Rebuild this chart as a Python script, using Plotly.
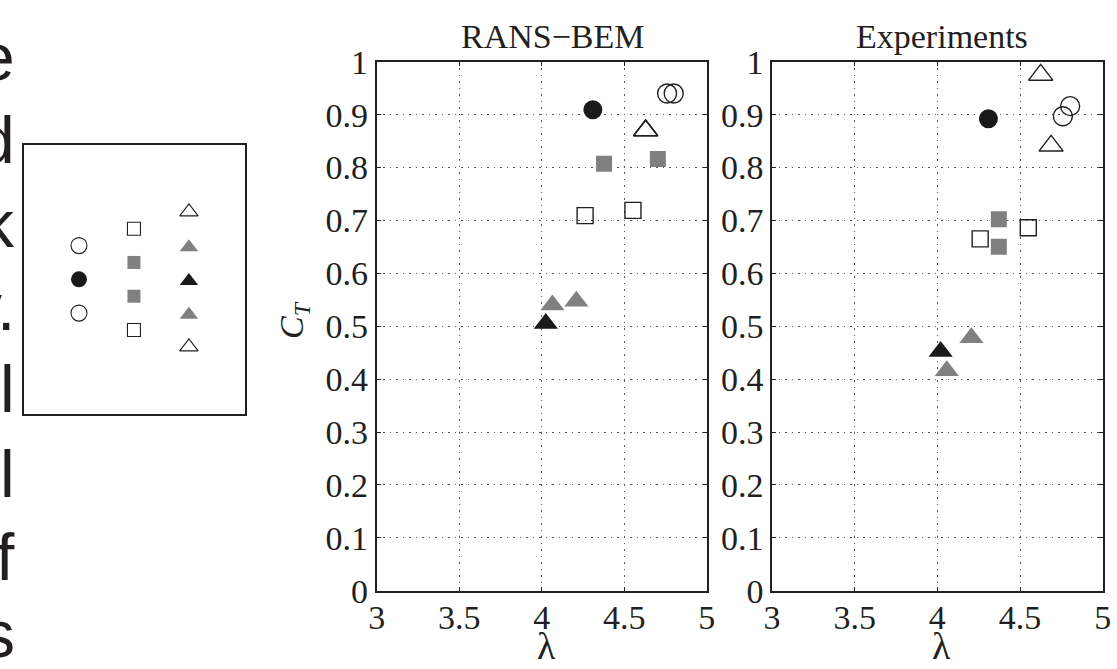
import plotly.graph_objects as go

W, H = 1117, 669

# ---------------- data ----------------
panel_titles = ["RANS\u2212BEM", "Experiments"]
x_ticks = [3, 3.5, 4, 4.5, 5]
x_tick_labels = ["3", "3.5", "4", "4.5", "5"]
y_ticks = [0, 0.1, 0.2, 0.3, 0.4, 0.5, 0.6, 0.7, 0.8, 0.9, 1]
y_tick_labels = ["0", "0.1", "0.2", "0.3", "0.4", "0.5", "0.6", "0.7", "0.8", "0.9", "1"]

# RANS-BEM panel (lambda, C_T)
rans_black_triangle_lam = [4.025]
rans_black_triangle_ct = [0.505]
rans_gray_triangle_lam = [4.065, 4.21]
rans_gray_triangle_ct = [0.54, 0.547]
rans_open_triangle_lam = [4.63, 4.63]
rans_open_triangle_ct = [0.87, 0.87]
rans_open_square_lam = [4.263, 4.553]
rans_open_square_ct = [0.709, 0.719]
rans_gray_square_lam = [4.378, 4.704]
rans_gray_square_ct = [0.807, 0.816]
rans_black_circle_lam = [4.31]
rans_black_circle_ct = [0.909]
rans_open_circle_lam = [4.76, 4.80]
rans_open_circle_ct = [0.94, 0.94]

# Experiments panel (lambda, C_T)
exp_black_triangle_lam = [4.02]
exp_black_triangle_ct = [0.452]
exp_gray_triangle_lam = [4.206, 4.057]
exp_gray_triangle_ct = [0.478, 0.416]
exp_open_triangle_lam = [4.625, 4.688]
exp_open_triangle_ct = [0.975, 0.841]
exp_open_square_lam = [4.259, 4.55]
exp_open_square_ct = [0.665, 0.686]
exp_gray_square_lam = [4.372, 4.372]
exp_gray_square_ct = [0.702, 0.65]
exp_black_circle_lam = [4.309]
exp_black_circle_ct = [0.892]
exp_open_circle_lam = [4.759, 4.803]
exp_open_circle_ct = [0.897, 0.916]

# symbol key box (column index, row position, kind)
key_circle_rows = [1.05, 2.05, 3.05]
key_circle_kinds = ["open", "black", "open"]
key_square_rows = [0.55, 1.55, 2.55, 3.55]
key_square_kinds = ["open", "gray", "gray", "open"]
key_triangle_rows = [0.05, 1.1, 2.1, 3.1, 4.05]
key_triangle_kinds = ["open", "gray", "black", "gray", "open"]

# cropped body text at the left edge
side_letters = ["e", "d", "k", "y.", "l", "l", "f", "s"]

# ---------------- styles ----------------
INK = "#231f20"
GRAY = "#808080"
BLACK = "#1a1a1a"
SERIF = "Liberation Serif, Times New Roman, serif"
SANS = "Liberation Sans, Arial, sans-serif"


def marker_style(kind, shape, size):
    sym = {"circle": "circle", "square": "square", "triangle": "triangle-up"}[shape]
    if kind == "open":
        return dict(symbol=sym + "-open", size=size, color=INK, line=dict(width=1.4, color=INK))
    col = GRAY if kind == "gray" else BLACK
    return dict(symbol=sym, size=size, color=col, line=dict(width=0))


fig = go.Figure()

SIZES = {"circle": 19, "square": 16, "triangle": 21}


def add_group(lam, ct, kind, shape, xa, ya):
    fig.add_trace(go.Scatter(x=lam, y=ct, mode="markers", xaxis=xa, yaxis=ya,
                             marker=marker_style(kind, shape, SIZES[shape]),
                             showlegend=False, hoverinfo="x+y"))


for xa, ya, groups in [
    ("x", "y", [
        (rans_black_triangle_lam, rans_black_triangle_ct, "black", "triangle"),
        (rans_gray_triangle_lam, rans_gray_triangle_ct, "gray", "triangle"),
        (rans_open_triangle_lam, rans_open_triangle_ct, "open", "triangle"),
        (rans_open_square_lam, rans_open_square_ct, "open", "square"),
        (rans_gray_square_lam, rans_gray_square_ct, "gray", "square"),
        (rans_black_circle_lam, rans_black_circle_ct, "black", "circle"),
        (rans_open_circle_lam, rans_open_circle_ct, "open", "circle"),
    ]),
    ("x2", "y2", [
        (exp_black_triangle_lam, exp_black_triangle_ct, "black", "triangle"),
        (exp_gray_triangle_lam, exp_gray_triangle_ct, "gray", "triangle"),
        (exp_open_triangle_lam, exp_open_triangle_ct, "open", "triangle"),
        (exp_open_square_lam, exp_open_square_ct, "open", "square"),
        (exp_gray_square_lam, exp_gray_square_ct, "gray", "square"),
        (exp_black_circle_lam, exp_black_circle_ct, "black", "circle"),
        (exp_open_circle_lam, exp_open_circle_ct, "open", "circle"),
    ]),
]:
    for lam, ct, kind, shape in groups:
        add_group(lam, ct, kind, shape, xa, ya)

# key box symbols
KEY_SIZES = {"circle": 16, "square": 13, "triangle": 16}
for col, rows, kinds, shape in [
    (1, key_circle_rows, key_circle_kinds, "circle"),
    (2, key_square_rows, key_square_kinds, "square"),
    (3, key_triangle_rows, key_triangle_kinds, "triangle"),
]:
    for r, k in zip(rows, kinds):
        ms = marker_style(k, shape, KEY_SIZES[shape])
        if k == "open":
            ms["line"]["width"] = 1.1
        fig.add_trace(go.Scatter(x=[col], y=[r], mode="markers", xaxis="x3", yaxis="y3",
                                 marker=ms, showlegend=False, hoverinfo="skip"))


def px_x(p):
    return p / W


def px_y(p):
    return 1 - p / H


ydom = [px_y(590.7), px_y(61.7)]
common_x = dict(range=[3, 5], tickvals=x_ticks, ticktext=x_tick_labels,
                showgrid=True, gridcolor="#555", griddash="1.5px,5px", gridwidth=1,
                zeroline=False, showline=True, linecolor=INK, linewidth=1.6, mirror="ticks",
                ticks="inside", ticklen=4, tickwidth=1, tickcolor=INK, automargin=False,
                ticklabelstandoff=-4,
                tickfont=dict(family=SERIF, size=34, color=INK), fixedrange=True)
common_y = dict(range=[0, 1], tickvals=y_ticks, ticktext=y_tick_labels,
                showgrid=True, gridcolor="#555", griddash="1.5px,5px", gridwidth=1,
                zeroline=False, showline=True, linecolor=INK, linewidth=1.6, mirror="ticks",
                ticks="inside", ticklen=4, tickwidth=1, tickcolor=INK, automargin=False,
                tickfont=dict(family=SERIF, size=34, color=INK), fixedrange=True)

fig.update_layout(
    width=W, height=H,
    margin=dict(l=0, r=0, t=0, b=0, pad=0, autoexpand=False),
    paper_bgcolor="white", plot_bgcolor="white",
    showlegend=False,
    xaxis=dict(domain=[px_x(376.7), px_x(706.7)], anchor="y", **common_x),
    yaxis=dict(domain=ydom, anchor="x", **common_y),
    xaxis2=dict(domain=[px_x(772), px_x(1102.7)], anchor="y2", **common_x),
    yaxis2=dict(domain=ydom, anchor="x2", **common_y),
    xaxis3=dict(domain=[px_x(24), px_x(245)], anchor="y3", range=[0, 4.02],
                showgrid=False, zeroline=False, showticklabels=False, ticks="",
                showline=True, mirror=True, linecolor=INK, linewidth=1.5, fixedrange=True),
    yaxis3=dict(domain=[px_y(414), px_y(145)], anchor="x3", range=[6.04, -1.93],
                showgrid=False, zeroline=False, showticklabels=False, ticks="",
                showline=True, mirror=True, linecolor=INK, linewidth=1.5, fixedrange=True),
)

ann = []
# panel titles
for title, cx in zip(panel_titles, [553, 942]):
    ann.append(dict(text=title, x=px_x(cx), y=px_y(36), xref="paper", yref="paper",
                    xanchor="center", yanchor="middle", showarrow=False,
                    font=dict(family=SERIF, size=34, color=INK)))
# x-axis titles
for cx in [546, 941]:
    ann.append(dict(text="\u03bb", x=px_x(cx), y=px_y(646), xref="paper", yref="paper",
                    xanchor="center", yanchor="middle", showarrow=False,
                    font=dict(family=SERIF, size=38, color=INK)))
# y-axis title
ann.append(dict(text="<i>C</i><sub><i>T</i></sub>", x=px_x(294), y=px_y(320),
                xref="paper", yref="paper", xanchor="center", yanchor="middle",
                textangle=-90, showarrow=False,
                font=dict(family=SERIF, size=34, color=INK)))
# cropped body text on the left
for letter, cy in zip(side_letters, [57, 140, 224, 307, 389, 474, 557, 634]):
    ann.append(dict(text=letter, x=px_x(17), y=px_y(cy), xref="paper", yref="paper",
                    xanchor="right", yanchor="middle", showarrow=False,
                    font=dict(family=SANS, size=66, color=INK)))
fig.update_layout(annotations=ann)

fig.write_html("out.html")
